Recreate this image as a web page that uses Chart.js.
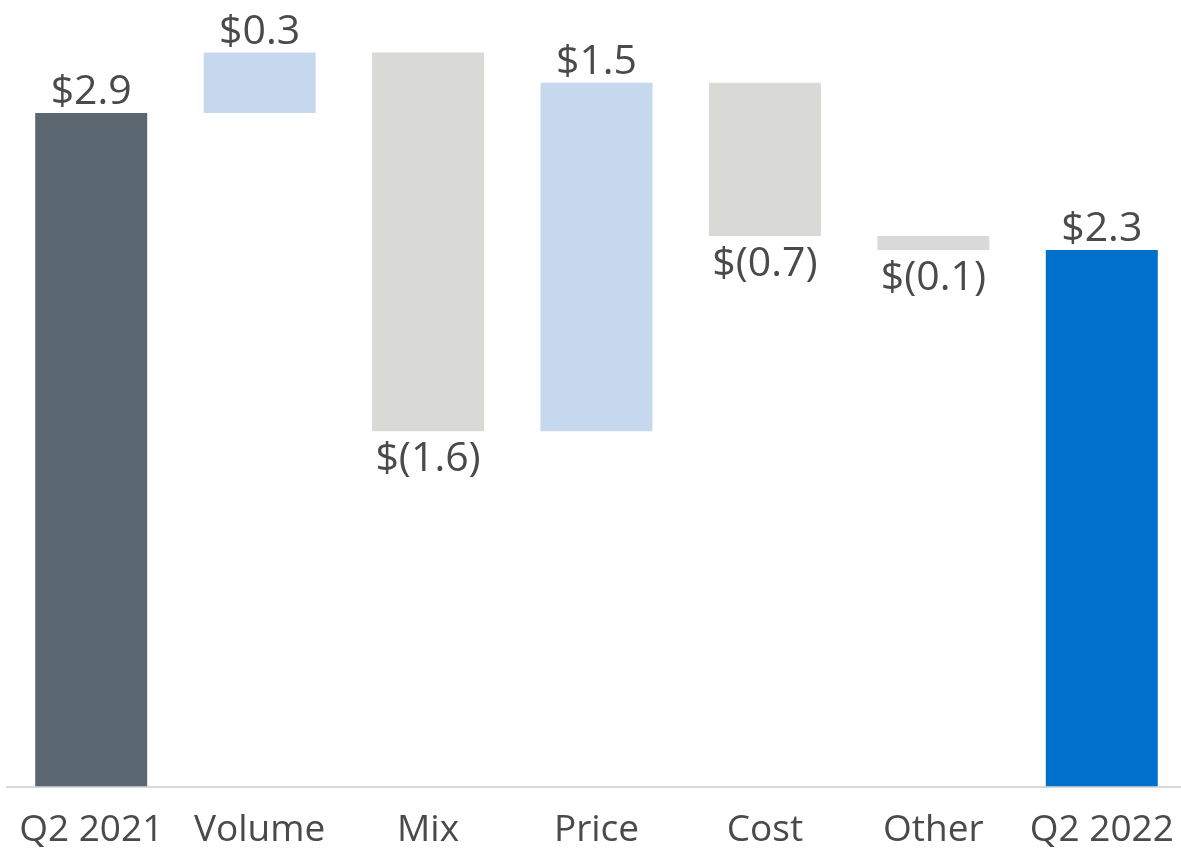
<!DOCTYPE html>
<html>
<head>
<meta charset="utf-8">
<script src="https://cdn.jsdelivr.net/npm/chart.js@4/dist/chart.umd.min.js"></script>
<style>
html,body{margin:0;padding:0;background:#fff;overflow:hidden;}
#wrap{position:absolute;left:0;top:0;width:1186px;height:875px;}
</style>
</head>
<body>
<div id="wrap"><canvas id="c" width="1186" height="875"></canvas></div>
<script>
const categories = ["Q2 2021", "Volume", "Mix", "Price", "Cost", "Other", "Q2 2022"];
const barFrom = [0, 2.90, 3.16, 1.53, 3.03, 2.37, 0];
const barTo   = [2.90, 3.16, 1.53, 3.03, 2.37, 2.31, 2.31];
const valueLabels = ["$2.9", "$0.3", "$(1.6)", "$1.5", "$(0.7)", "$(0.1)", "$2.3"];
const barColors = ["#5a6670", "#c5d8ee", "#d9dad6", "#c5d8ee", "#d9dad6", "#d9d9d9", "#0070cc"];

const FONT = "'Open Sans', 'Noto Sans', sans-serif";
const TEXT = "#4a4a4a";

const labelPlugin = {
  id: 'valueLabels',
  afterDatasetsDraw(chart) {
    const ctx = chart.ctx;
    const meta = chart.getDatasetMeta(0);
    ctx.save();
    ctx.font = "41px " + FONT;
    ctx.fillStyle = TEXT;
    ctx.textAlign = 'center';
    meta.data.forEach((bar, i) => {
      const from = barFrom[i], to = barTo[i];
      const yScale = chart.scales.y;
      const top = yScale.getPixelForValue(Math.max(from, to));
      const bottom = yScale.getPixelForValue(Math.min(from, to));
      if (to >= from) {
        ctx.textBaseline = 'alphabetic';
        ctx.fillText(valueLabels[i], bar.x, top - 9);
      } else {
        ctx.textBaseline = 'top';
        ctx.fillText(valueLabels[i], bar.x, bottom + 8);
      }
    });
    ctx.restore();
  }
};

new Chart(document.getElementById('c'), {
  type: 'bar',
  data: {
    labels: categories,
    datasets: [{
      data: categories.map((c, i) => [barFrom[i], barTo[i]]),
      backgroundColor: barColors,
      borderWidth: 0,
      borderSkipped: false,
      categoryPercentage: 1.0,
      barPercentage: 0.665
    }]
  },
  options: {
    responsive: false,
    animation: false,
    layout: { padding: { left: 7, right: 0, top: 0, bottom: 0 } },
    plugins: { legend: { display: false }, tooltip: { enabled: false } },
    scales: {
      x: {
        afterFit(scale) { scale.paddingLeft = 0; scale.paddingRight = 0; },
        grid: { display: false, drawTicks: false },
        border: { display: true, color: "#d9d9d9", width: 2 },
        ticks: { color: TEXT, font: { family: FONT, size: 37 }, padding: 22, maxRotation: 0 }
      },
      y: {
        display: false,
        min: 0,
        max: 3.386
      }
    }
  },
  plugins: [labelPlugin]
});
</script>
</body>
</html>
